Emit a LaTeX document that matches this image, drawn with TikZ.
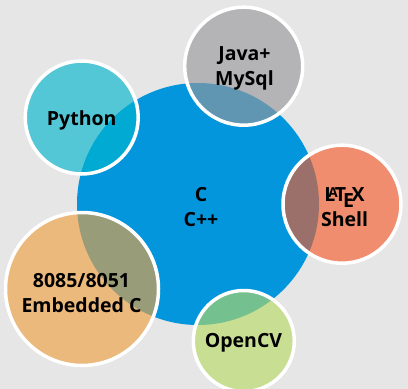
\documentclass[tikz,border=0pt]{standalone}
\usepackage{fontspec}
\setmainfont{Open Sans}
\definecolor{bgc}{RGB}{230,230,230}
\definecolor{bluec}{RGB}{3,150,220}
\definecolor{grayc}{RGB}{151,151,155}
\definecolor{cyanc}{RGB}{0,182,207}
\definecolor{salmonc}{RGB}{246,90,40}
\definecolor{peachc}{RGB}{241,160,64}
\definecolor{greenc}{RGB}{184,218,99}
\tikzset{
  bubble/.style={circle, draw=white, line width=3.5pt, fill opacity=0.63, text opacity=1, inner sep=0pt},
  lbl/.style={font=\fontsize{19.5}{25}\selectfont\bfseries, align=center, text=black, inner sep=0pt}
}
\begin{document}
\begin{tikzpicture}[x=1pt,y=-1pt]
\useasboundingbox (0,0) rectangle (408,389);
\fill[bgc] (0,0) rectangle (408,389);
\node[circle, fill=bluec, minimum size=242pt, inner sep=0pt] (core) at (198,204) {};
\node[lbl] (coretext) at (201,207) {C\\C++};
\node[bubble, fill=grayc, minimum size=118pt] (java) at (243.7,66.2) {};
\node[lbl] (javatext) at (244.5,68.5) {Java+\\MySql};
\node[bubble, fill=cyanc, minimum size=113pt] (python) at (81.7,117.5) {};
\node[lbl] (pythontext) at (81.7,120) {Python};
\node[bubble, fill=salmonc, minimum size=118pt] (latex) at (342,204.2) {};
\node[lbl] (latextext) at (344.5,207.5) {\LaTeX\\Shell};
\node[bubble, fill=peachc, minimum size=153pt] (emb) at (82,289) {};
\node[lbl] (embtext) at (81.5,293) {8085/8051\\Embedded C};
\node[bubble, fill=greenc, minimum size=101pt] (cv) at (243.8,341) {};
\node[lbl] (cvtext) at (243.5,342.5) {OpenCV};
\end{tikzpicture}
\end{document}
